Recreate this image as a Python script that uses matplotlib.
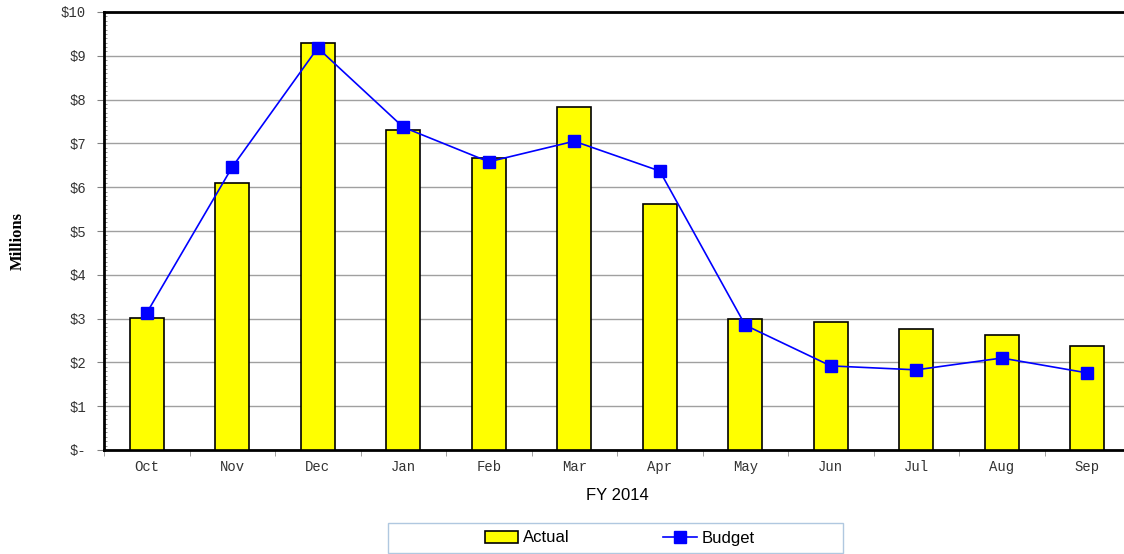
import matplotlib.pyplot as plt
import numpy as np
from matplotlib.patches import Rectangle
from matplotlib.ticker import MultipleLocator, FuncFormatter

months = ['Oct', 'Nov', 'Dec', 'Jan', 'Feb', 'Mar', 'Apr', 'May', 'Jun', 'Jul', 'Aug', 'Sep']
actual = [3.01, 6.10, 9.29, 7.31, 6.66, 7.82, 5.62, 2.98, 2.92, 2.76, 2.63, 2.37]
budget = [3.13, 6.46, 9.18, 7.37, 6.58, 7.05, 6.37, 2.85, 1.92, 1.83, 2.10, 1.76]

mono = 'Liberation Mono'
sans = 'Liberation Sans'
W, H = 1124, 554

fig = plt.figure(figsize=(W / 100, H / 100), dpi=100)
# plot area runs a little past the right edge of the figure, as in the original
ax = fig.add_axes([104 / W, 104 / H, 1026 / W, 438 / H])

x = np.arange(len(months))
bars = ax.bar(x, actual, width=0.40, color='#ffff00', edgecolor='black', linewidth=1.2,
              label='Actual', zorder=3)
line, = ax.plot(x, budget, color='#0000ff', linewidth=1.2, marker='s', markersize=9,
                label='Budget', zorder=4)

ax.set_xlim(-0.5, len(months) - 0.5)
ax.set_ylim(0, 10)

ax.yaxis.set_major_locator(MultipleLocator(1))
ax.yaxis.set_minor_locator(MultipleLocator(0.1))
ax.yaxis.set_major_formatter(FuncFormatter(lambda v, p: '$-' if v == 0 else f'${v:.0f}'))
ax.grid(axis='y', color='#a0a0a0', linewidth=1, zorder=0)

ax.set_xticks(x)
ax.set_xticklabels(months)
ax.set_xticks(np.arange(-0.5, len(months), 1), minor=True)
ax.tick_params(axis='x', which='major', length=0, pad=7)
ax.tick_params(axis='x', which='minor', length=4, color='#909090', direction='out')
ax.tick_params(axis='y', which='major', length=5, direction='out', color='#808080', pad=8)
ax.tick_params(axis='y', which='minor', length=2, direction='in', color='#808080')
for lab in ax.get_xticklabels() + ax.get_yticklabels():
    lab.set_fontfamily(mono)
    lab.set_fontsize(10)
    lab.set_color('#333333')

ax.spines['right'].set_visible(False)
ax.spines['top'].set_linewidth(2)
ax.spines['left'].set_linewidth(2)
ax.spines['bottom'].set_linewidth(2)

ax.set_xlabel('FY 2014', fontfamily=sans, fontsize=12, labelpad=10)
fig.text(0.016, 0.565, 'Millions', rotation=90, fontfamily='Liberation Serif',
         fontweight='bold', fontsize=12, ha='center', va='center')

# legend box is wider than its content, so draw the frame separately
fig.patches.append(Rectangle((388 / W, 1 / H), 455 / W, 30 / H, transform=fig.transFigure,
                             facecolor='white', edgecolor='#b0c8e0', linewidth=1))
fig.legend([bars, line], ['Actual', 'Budget'], loc='center',
           bbox_to_anchor=(620 / W, 1 - 538 / H), ncol=2,
           prop={'family': sans, 'size': 12}, frameon=False,
           columnspacing=5.6, handlelength=2.0, borderpad=0.2, handletextpad=0.3,
           borderaxespad=0)

plt.savefig('out.png', dpi=100)
